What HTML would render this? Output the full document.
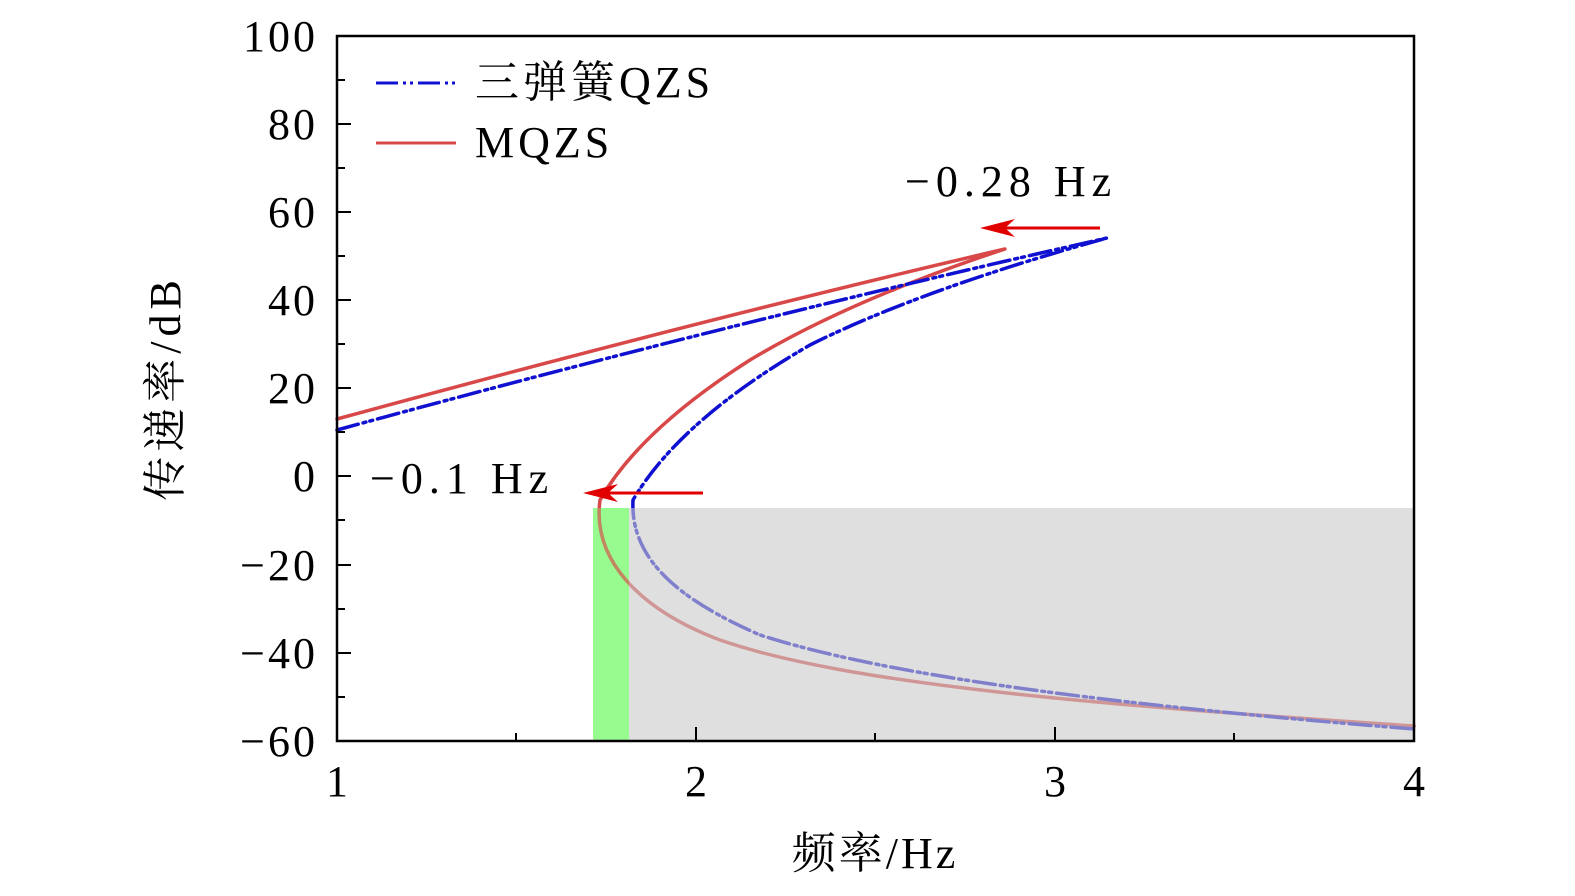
<!DOCTYPE html>
<html><head><meta charset="utf-8"><style>body{margin:0;background:#fff}svg{display:block}text{font-family:"Liberation Serif","Noto Serif CJK SC",serif;fill:#000}</style></head><body>
<svg width="1575" height="896" viewBox="0 0 1575 896" xmlns="http://www.w3.org/2000/svg">
<rect x="593" y="508" width="36" height="233" fill="#99fb8f"/>
<g fill="none" stroke-linecap="round" stroke-linejoin="round">
<path d="M337,419 Q700,320 1005,249 Q850,300 750,360 Q640,430 600,500 C592,560 640,610 720,640 C850,685 1100,705 1414,726" stroke="#d94848" stroke-width="3.5"/>
<path d="M337,430 Q720,325 1107,238 Q920,290 810,345 Q680,420 633,500 C630,560 680,600 760,635 C900,680 1150,708 1414,729" stroke="#1010d0" stroke-width="3.5" stroke-dasharray="22,5,3,4,3,5"/>
</g>
<rect x="629" y="508" width="785" height="233" fill="#c9c9c9" fill-opacity="0.6"/>
<rect x="593" y="508" width="36" height="233" fill="#99fb8f" fill-opacity="0.35"/>
<g stroke="#e00000" stroke-width="3" fill="#e00000">
<line x1="1100" y1="228" x2="985" y2="228"/><path d="M980,228 L1015,219 L1005,228 L1015,237Z" stroke="none"/>
<line x1="703" y1="493" x2="588" y2="493"/><path d="M583,493 L618,484 L608,493 L618,502Z" stroke="none"/>
</g>
<rect x="337" y="36" width="1077" height="705" fill="none" stroke="#000" stroke-width="2.5"/>
<g stroke="#000" stroke-width="2">
<path d="M337,124h14M337,212h14M337,300h14M337,388h14M337,476h14M337,565h14M337,653h14"/>
<path d="M337,80h8M337,168h8M337,256h8M337,344h8M337,432h8M337,520h8M337,609h8M337,697h8"/>
<path d="M696,741v-14M1055,741v-14M516,741v-8M875,741v-8M1234,741v-8"/>
</g>
<g font-size="44" text-anchor="end" letter-spacing="3">
<text x="318" y="51">100</text><text x="318" y="139">80</text><text x="318" y="227">60</text><text x="318" y="315">40</text><text x="318" y="403">20</text><text x="318" y="491">0</text><text x="318" y="580">−20</text><text x="318" y="668">−40</text><text x="318" y="756">−60</text>
</g>
<g font-size="44" text-anchor="middle">
<text x="337" y="796">1</text><text x="696" y="796">2</text><text x="1055" y="796">3</text><text x="1414" y="796">4</text>
<text x="875" y="868" letter-spacing="3">频率/Hz</text>
<text transform="translate(180,388) rotate(-90)" letter-spacing="5">传递率/dB</text>
</g>
<line x1="376" y1="83" x2="456" y2="83" stroke="#1010d0" stroke-width="3" stroke-dasharray="22,5,3,4,3,5"/>
<line x1="376" y1="143" x2="456" y2="143" stroke="#d94848" stroke-width="3"/>
<g font-size="44" letter-spacing="4"><text x="475" y="97">三弹簧QZS</text><text x="475" y="157">MQZS</text>
<text x="905" y="196" letter-spacing="6">−0.28 Hz</text><text x="370" y="493" letter-spacing="6">−0.1 Hz</text></g>
</svg>
</body></html>
